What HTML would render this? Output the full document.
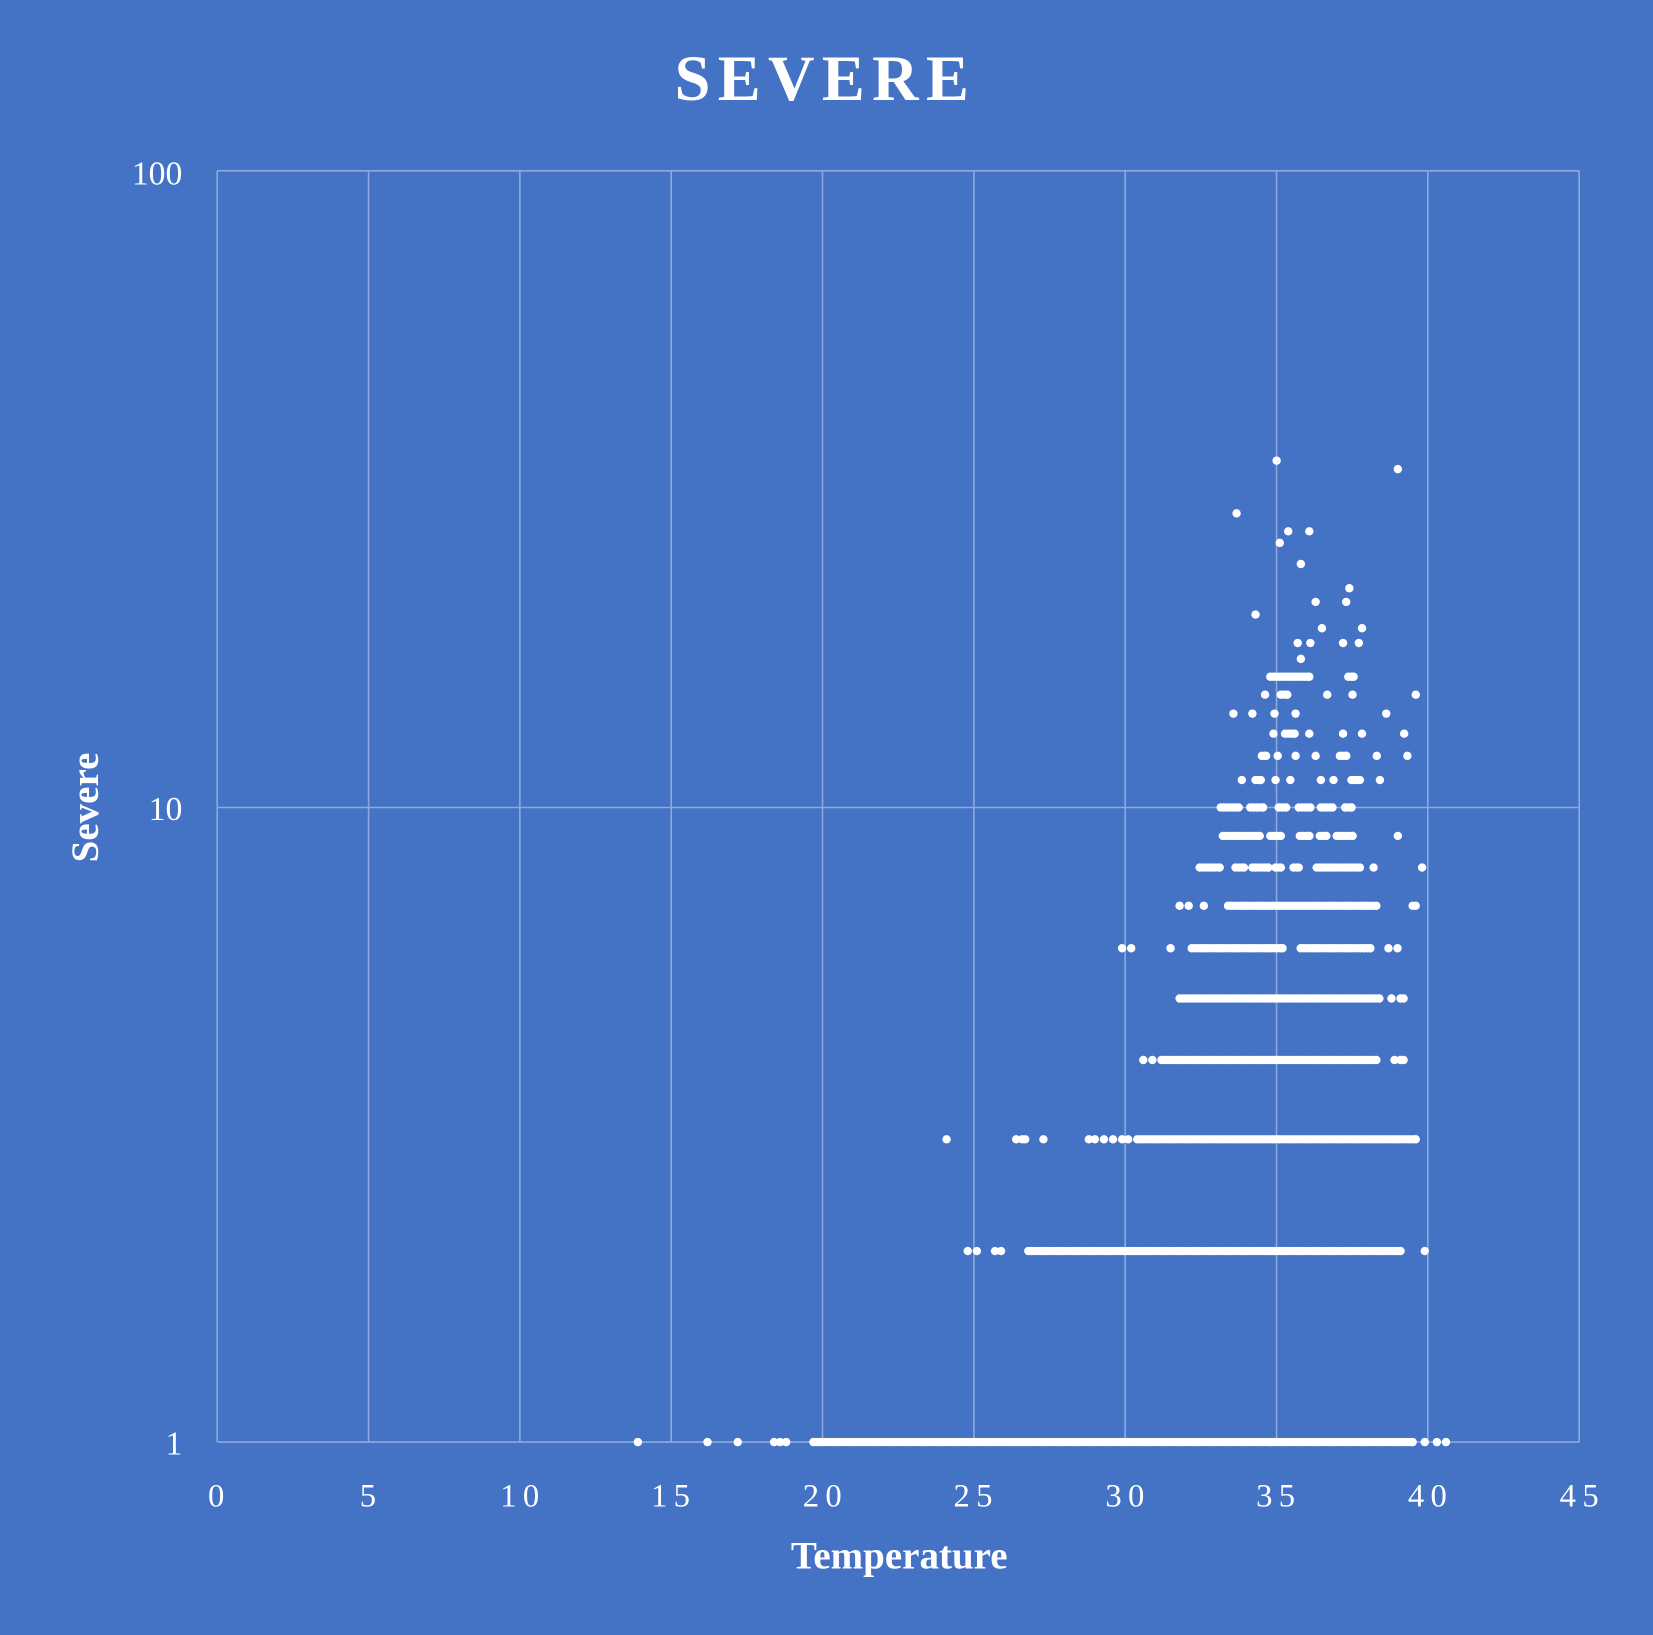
<!DOCTYPE html>
<html><head><meta charset="utf-8"><style>
html,body{margin:0;padding:0;background:#4472C4;}
svg{display:block}
text{font-family:"Liberation Serif",serif;fill:#fff}
</style></head><body>
<svg id="s" width="1653" height="1635" viewBox="0 0 1568 1551" xmlns="http://www.w3.org/2000/svg">
<rect width="1568" height="1551" fill="#4472C4"/>
<g stroke="#8FA9DC" stroke-width="1.5" fill="none">
<line x1="206" y1="162" x2="206" y2="1368"/><line x1="349.6" y1="162" x2="349.6" y2="1368"/>
<line x1="493.1" y1="162" x2="493.1" y2="1368"/><line x1="636.7" y1="162" x2="636.7" y2="1368"/>
<line x1="780.2" y1="162" x2="780.2" y2="1368"/><line x1="923.8" y1="162" x2="923.8" y2="1368"/>
<line x1="1067.3" y1="162" x2="1067.3" y2="1368"/><line x1="1210.9" y1="162" x2="1210.9" y2="1368"/>
<line x1="1354.4" y1="162" x2="1354.4" y2="1368"/><line x1="1498" y1="162" x2="1498" y2="1368"/>
<line x1="206" y1="162" x2="1498" y2="162"/><line x1="206" y1="766" x2="1498" y2="766"/>
<line x1="206" y1="1368" x2="1498" y2="1368"/>
</g>
<text x="783" y="95" text-anchor="middle" font-size="61" font-weight="bold" letter-spacing="7">SEVERE</text>
<g font-size="32" text-anchor="end">
<text x="173" y="175">100</text><text x="173" y="778">10</text><text x="173" y="1380">1</text>
</g>
<g font-size="31" text-anchor="middle" letter-spacing="6">
<text x="208" y="1429">0</text><text x="352" y="1429">5</text><text x="496" y="1429">10</text>
<text x="639" y="1429">15</text><text x="783" y="1429">20</text><text x="926" y="1429">25</text>
<text x="1070" y="1429">30</text><text x="1213" y="1429">35</text><text x="1357" y="1429">40</text>
<text x="1501" y="1429">45</text>
</g>
<text x="853" y="1488" text-anchor="middle" font-size="37" font-weight="bold">Temperature</text>
<text transform="translate(93,766) rotate(-90)" text-anchor="middle" font-size="37" font-weight="bold">Severe</text>
<g id="d" fill="#fff"></g>
</svg>
<script>
var g=document.getElementById('d'),ns='http://www.w3.org/2000/svg';
function Y(v){return 1368-602*Math.log10(v);}
function X(t){return 206+28.71*t;}
function dot(x,y){var c=document.createElementNS(ns,'circle');c.setAttribute('cx',x);c.setAttribute('cy',y);c.setAttribute('r',4);g.appendChild(c);}
function seg(x1,x2,y){for(var x=x1;x<=x2;x+=3)dot(x,y);dot(x2,y);}
function row(v,pts,segs){var y=Y(v);pts.forEach(function(t){dot(X(t),y)});segs.forEach(function(s){seg(X(s[0]),X(s[1]),y)});}
row(1,[13.9,16.2,17.2,18.4,18.6,18.8,39.9,40.3,40.6],[[19.7,39.5]]);
row(2,[24.8,25.1,25.7,25.9,39.9],[[26.8,39.1]]);
row(3,[24.1,26.4,26.6,26.7,27.3,28.8,29.0,29.3,29.6,29.9,30.1],[[30.4,39.6]]);
row(4,[30.6,30.9,38.9,39.1,39.2],[[31.2,38.3]]);
row(5,[39.1,38.8,39.2],[[31.8,38.4]]);
row(6,[29.9,30.2,31.5,38.7,39.0],[[32.2,35.2],[35.8,38.1]]);
row(7,[31.8,32.1,32.6,39.5,39.6],[[33.4,38.3]]);
function drow(y,list){list.forEach(function(a){if(a.length==1)dot(a[0],y);else seg(a[0],a[1],y);});}
drow(823,[[1138,1157],[1172,1180],[1188,1203],[1210,1215],[1227,1232],[1249,1290],[1303],[1349]]);
drow(793,[[1160,1195],[1205,1215],[1233,1242],[1252,1258],[1268,1283],[1326]]);
drow(766,[[1158,1175],[1186,1198],[1213,1220],[1232,1243],[1253,1264],[1276,1282]]);
var P=[[1211,437],[1326,445],[1173,487],[1214,515],[1222,504],[1242,504],[1234,535],[1248,571],[1280,558],[1277,571],[1191,583],[1254,596],[1292,596],[1231,610],[1243,610],[1274,610],[1289,610],[1234,625],[1259,659],[1283,659],[1343,659],[1200,659],[1170,677],[1188,677],[1209,677],[1229,677],[1315,677],[1208,696],[1242,696],[1274,696],[1292,696],[1332,696],[1212,717],[1229,717],[1248,717],[1306,717],[1335,717],[1178,740],[1210,740],[1224,740],[1253,740],[1265,740],[1309,740]];
P.forEach(function(p){dot(p[0],p[1])});
seg(1205,1242,642);seg(1279,1284,642);seg(1215,1221,659);seg(1219,1228,696);seg(1197,1201,717);seg(1271,1277,717);seg(1191,1196,740);seg(1282,1290,740);
</script>
</body></html>
